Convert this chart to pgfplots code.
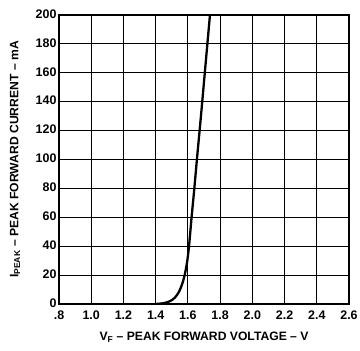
\documentclass[border=0pt]{standalone}
\usepackage{pgfplots}
\pgfplotsset{compat=1.18}
\usepackage{fontspec}
\setmainfont{Liberation Sans}
\begin{document}
\begin{tikzpicture}[x=1bp,y=1bp]
\path[use as bounding box] (-59,-47) rectangle (301,304);
\begin{axis}[
  at={(0,0)}, anchor=south west,
  scale only axis,
  width=290bp, height=289bp,
  xmin=0.8, xmax=2.6, ymin=0, ymax=200,
  xtick={0.8,1.0,1.2,1.4,1.6,1.8,2.0,2.2,2.4,2.6},
  xticklabels={.8,1.0,1.2,1.4,1.6,1.8,2.0,2.2,2.4,2.6},
  ytick={0,20,40,60,80,100,120,140,160,180,200},
  grid=major,
  grid style={black, line width=1pt},
  axis line style={black, line width=1.1pt},
  tick style={draw=none},
  /pgf/number format/assume math mode=true,
  ticklabel style={font=\fontsize{12.5}{14}\selectfont\bfseries},
  yticklabel style={xshift=1bp, yshift=1bp},
  xticklabel style={yshift=-3bp},
  xlabel={V\textsubscript{F} -- PEAK FORWARD VOLTAGE -- V},
  ylabel={I\textsubscript{PEAK} -- PEAK FORWARD CURRENT -- mA},
  label style={font=\fontsize{12.2}{14}\selectfont\bfseries},
  xlabel style={at={(axis description cs:0.5,-0.1142)}, anchor=center},
  ylabel style={at={(axis description cs:-0.1517,0.5)}, anchor=center},
  clip=true,
]
\addplot[black, line width=2.3pt, smooth, tension=0.5] coordinates {
(1.40,0) (1.45,0.6) (1.49,2) (1.52,4.5) (1.545,8.5) (1.565,14) (1.58,20) (1.595,29) (1.607,40) (1.623,60) (1.64,80) (1.656,100) (1.681,130) (1.705,160) (1.737,200)
};
\end{axis}
\end{tikzpicture}
\end{document}
